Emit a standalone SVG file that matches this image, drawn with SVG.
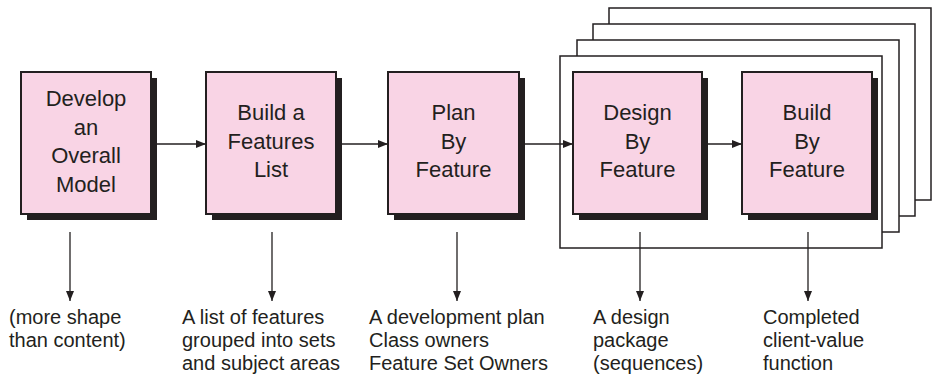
<svg xmlns="http://www.w3.org/2000/svg" width="933" height="378" viewBox="0 0 933 378">
<style>
.frame{fill:#fff;stroke:#231f20;stroke-width:1.5}
.shadow{fill:#231f20}
.box{fill:#f9d4e5;stroke:#231f20;stroke-width:2}
.lbl{font-family:"Liberation Sans",Arial,sans-serif;font-size:22px;fill:#231f20;text-anchor:middle}
.out{font-family:"Liberation Sans",Arial,sans-serif;font-size:20px;fill:#231f20}
.conn{stroke:#231f20;stroke-width:1.3;fill:none;marker-end:url(#ah)}
</style>
<defs>
<marker id="ah" markerWidth="10" markerHeight="8" refX="10" refY="4" orient="auto" markerUnits="userSpaceOnUse">
<path d="M0,0 L10,4 L0,8 Z" fill="#231f20"/>
</marker>
</defs>
<rect width="933" height="378" fill="#fff"/>
<g id="frames">
<rect class="frame" x="609" y="8" width="322" height="192"/>
<rect class="frame" x="593" y="24" width="322" height="192"/>
<rect class="frame" x="577" y="40" width="322" height="192"/>
<rect class="frame" x="560" y="56" width="322" height="192"/>
</g>
<g id="connectors">
<line class="conn" x1="157" y1="144" x2="206" y2="144"/>
<line class="conn" x1="342" y1="144" x2="388" y2="144"/>
<line class="conn" x1="525" y1="144" x2="573" y2="144"/>
<line class="conn" x1="708" y1="144" x2="742" y2="144"/>
<line class="conn" x1="70" y1="232" x2="70" y2="301"/>
<line class="conn" x1="272" y1="232" x2="272" y2="301"/>
<line class="conn" x1="457" y1="232" x2="457" y2="301"/>
<line class="conn" x1="640" y1="232" x2="640" y2="301"/>
<line class="conn" x1="808" y1="232" x2="808" y2="301"/>
</g>
<g id="develop">
<rect class="shadow" x="27" y="78" width="130" height="142"/>
<rect class="box" x="21" y="72" width="130" height="142"/>
<text class="lbl" x="86" y="106">Develop</text>
<text class="lbl" x="86" y="134.5">an</text>
<text class="lbl" x="86" y="163">Overall</text>
<text class="lbl" x="86" y="191.5">Model</text>
</g>
<g id="buildlist">
<rect class="shadow" x="212" y="78" width="130" height="142"/>
<rect class="box" x="206" y="72" width="130" height="142"/>
<text class="lbl" x="271" y="120">Build a</text>
<text class="lbl" x="271" y="148.5">Features</text>
<text class="lbl" x="271" y="177">List</text>
</g>
<g id="plan">
<rect class="shadow" x="394" y="78" width="131" height="142"/>
<rect class="box" x="388" y="72" width="131" height="142"/>
<text class="lbl" x="453.5" y="120">Plan</text>
<text class="lbl" x="453.5" y="148.5">By</text>
<text class="lbl" x="453.5" y="177">Feature</text>
</g>
<g id="design">
<rect class="shadow" x="579" y="78" width="129" height="142"/>
<rect class="box" x="573" y="72" width="129" height="142"/>
<text class="lbl" x="637.5" y="120">Design</text>
<text class="lbl" x="637.5" y="148.5">By</text>
<text class="lbl" x="637.5" y="177">Feature</text>
</g>
<g id="build">
<rect class="shadow" x="748" y="78" width="130" height="142"/>
<rect class="box" x="742" y="72" width="130" height="142"/>
<text class="lbl" x="807" y="120">Build</text>
<text class="lbl" x="807" y="148.5">By</text>
<text class="lbl" x="807" y="177">Feature</text>
</g>
<g id="out1">
<text class="out" x="9" y="324">(more shape</text>
<text class="out" x="9" y="347">than content)</text>
</g>
<g id="out2">
<text class="out" x="182" y="324">A list of features</text>
<text class="out" x="182" y="347">grouped into sets</text>
<text class="out" x="182" y="370">and subject areas</text>
</g>
<g id="out3">
<text class="out" x="369" y="324">A development plan</text>
<text class="out" x="369" y="347">Class owners</text>
<text class="out" x="369" y="370">Feature Set Owners</text>
</g>
<g id="out4">
<text class="out" x="593" y="324">A design</text>
<text class="out" x="593" y="347">package</text>
<text class="out" x="593" y="370">(sequences)</text>
</g>
<g id="out5">
<text class="out" x="763" y="324">Completed</text>
<text class="out" x="763" y="347">client-value</text>
<text class="out" x="763" y="370">function</text>
</g>
</svg>
